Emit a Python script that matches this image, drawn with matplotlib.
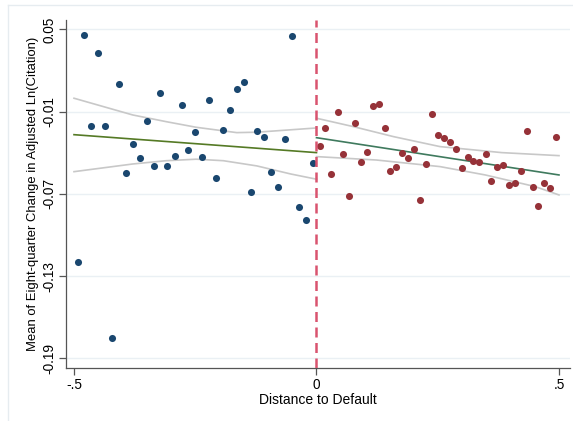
import numpy as np
import matplotlib
matplotlib.use("Agg")
import matplotlib.pyplot as plt
from matplotlib.lines import Line2D

plt.rcParams['font.family'] = ['Liberation Sans', 'DejaVu Sans']

# binned means, left of the cutoff
left_x = [-0.4924, -0.4794, -0.4643, -0.4499, -0.4354, -0.4223, -0.4072, -0.3922,
          -0.3790, -0.3645, -0.3501, -0.3351, -0.3227, -0.3076, -0.2924, -0.2779,
          -0.2649, -0.2505, -0.2355, -0.2216, -0.2078, -0.1928, -0.1784, -0.1645,
          -0.1501, -0.1357, -0.1221, -0.1076, -0.0932, -0.0788, -0.0649, -0.0499,
          -0.0361, -0.0223, -0.0078]
left_y = [-0.1197, 0.0458, -0.0207, 0.0326, -0.0207, -0.1750, 0.0100, -0.0547,
          -0.0336, -0.0436, -0.0170, -0.0494, 0.0036, -0.0496, -0.0426, -0.0051,
          -0.0377, -0.0246, -0.0431, -0.0015, -0.0582, -0.0236, -0.0085, 0.0068,
          0.0117, -0.0686, -0.0241, -0.0285, -0.0542, -0.0647, -0.0297, 0.0450,
          -0.0798, -0.0893, -0.0472]

# binned means, right of the cutoff
right_x = [0.0066, 0.0175, 0.0299, 0.0437, 0.0553, 0.0670, 0.0794, 0.0911,
           0.1035, 0.1165, 0.1289, 0.1406, 0.1522, 0.1645, 0.1763, 0.1893,
           0.2016, 0.2134, 0.2258, 0.2381, 0.2499, 0.2623, 0.2753, 0.2870,
           0.2994, 0.3117, 0.3227, 0.3351, 0.3489, 0.3604, 0.3722, 0.3845,
           0.3969, 0.4087, 0.4216, 0.4340, 0.4458, 0.4573, 0.4697, 0.4814,
           0.4938]
right_y = [-0.0350, -0.0219, -0.0555, -0.0104, -0.0407, -0.0718, -0.0185, -0.0467,
           -0.0392, -0.0056, -0.0042, -0.0219, -0.0533, -0.0506, -0.0401, -0.0436,
           -0.0372, -0.0747, -0.0482, -0.0115, -0.0272, -0.0292, -0.0321, -0.0374,
           -0.0509, -0.0431, -0.0458, -0.0467, -0.0411, -0.0608, -0.0506, -0.0491,
           -0.0637, -0.0618, -0.0533, -0.0243, -0.0647, -0.0788, -0.0618, -0.0657,
           -0.0282]

# linear fits
fit_left_x = [-0.5, 0.0]
fit_left_y = [-0.0268, -0.0399]
fit_right_x = [0.0, 0.5]
fit_right_y = [-0.0290, -0.0562]

# confidence bands
ci_left_up_x = [-0.5, -0.379, -0.310, -0.248, -0.1645, -0.123, 0.0]
ci_left_up_y = [-0.0002, -0.0124, -0.0173, -0.0214, -0.0253, -0.0250, -0.0219]
ci_left_lo_x = [-0.5, -0.379, -0.310, -0.248, -0.192, -0.123, -0.053, 0.0]
ci_left_lo_y = [-0.0538, -0.0482, -0.0458, -0.0447, -0.0458, -0.0496, -0.0555, -0.0593]
ci_right_up_x = [0.0, 0.0757, 0.1585, 0.2546, 0.3822, 0.5]
ci_right_up_y = [-0.0148, -0.0209, -0.0282, -0.0355, -0.0399, -0.0421]
ci_right_lo_x = [0.0, 0.1237, 0.2546, 0.348, 0.451, 0.5]
ci_right_lo_y = [-0.0428, -0.0453, -0.0501, -0.0562, -0.0647, -0.0708]

y_ticks = [0.05, -0.01, -0.07, -0.13, -0.19]
y_labels = ['0.05', '-0.01', '-0.07', '-0.13', '-0.19']
x_ticks = [-0.5, 0, 0.5]
x_labels = ['-.5', '0', '.5']

fig = plt.figure(figsize=(5.73, 4.21), dpi=100)
ax = fig.add_axes([66 / 573, 53 / 421, 504 / 573, 348 / 421])

band_col = '#c8c8c8'
ax.plot(ci_left_up_x, ci_left_up_y, color=band_col, lw=1.2, zorder=2)
ax.plot(ci_left_lo_x, ci_left_lo_y, color=band_col, lw=1.2, zorder=2)
ax.plot(ci_right_up_x, ci_right_up_y, color=band_col, lw=1.2, zorder=2)
ax.plot(ci_right_lo_x, ci_right_lo_y, color=band_col, lw=1.2, zorder=2)

ax.plot(fit_left_x, fit_left_y, color='#557a25', lw=1.2, zorder=3)
ax.plot(fit_right_x, fit_right_y, color='#3f7a5e', lw=1.2, zorder=3)

ax.scatter(left_x, left_y, s=26, color='#1a476f', zorder=4, linewidths=0)
ax.scatter(right_x, right_y, s=26, color='#963238', zorder=4, linewidths=0)

ax.axvline(0, color='#d9546f', lw=1.8, dashes=(4, 2.2), zorder=5)

ax.set_xlim(-0.5165, 0.5227)
ax.set_ylim(-0.1971, 0.0569)

ax.set_yticks(y_ticks)
ax.set_yticklabels(y_labels, rotation=90, va='center', fontsize=9.8)
ax.set_xticks(x_ticks)
ax.set_xticklabels(x_labels, fontsize=9.8)
ax.yaxis.grid(True, color='#eaf0f4', lw=1)
ax.set_axisbelow(True)

for s in ['top', 'right']:
    ax.spines[s].set_visible(False)
for s in ['left', 'bottom']:
    ax.spines[s].set_color('#555555')
    ax.spines[s].set_linewidth(0.9)
ax.tick_params(axis='both', color='#555555', length=5, width=0.9, pad=2)

ax.set_xlabel('Distance to Default', fontsize=10, labelpad=1)
ax.set_ylabel('Mean of Eight-quarter Change in Adjusted Ln(Citation)', fontsize=9.4, labelpad=2)

# light outer frame
fig.add_artist(Line2D([8 / 573, 1], [1 - 5 / 421, 1 - 5 / 421], transform=fig.transFigure,
                      color='#e6ecf0', lw=1))
fig.add_artist(Line2D([8 / 573, 8 / 573], [0, 1 - 5 / 421], transform=fig.transFigure,
                      color='#e6ecf0', lw=1))

fig.savefig('out.png', dpi=100)
